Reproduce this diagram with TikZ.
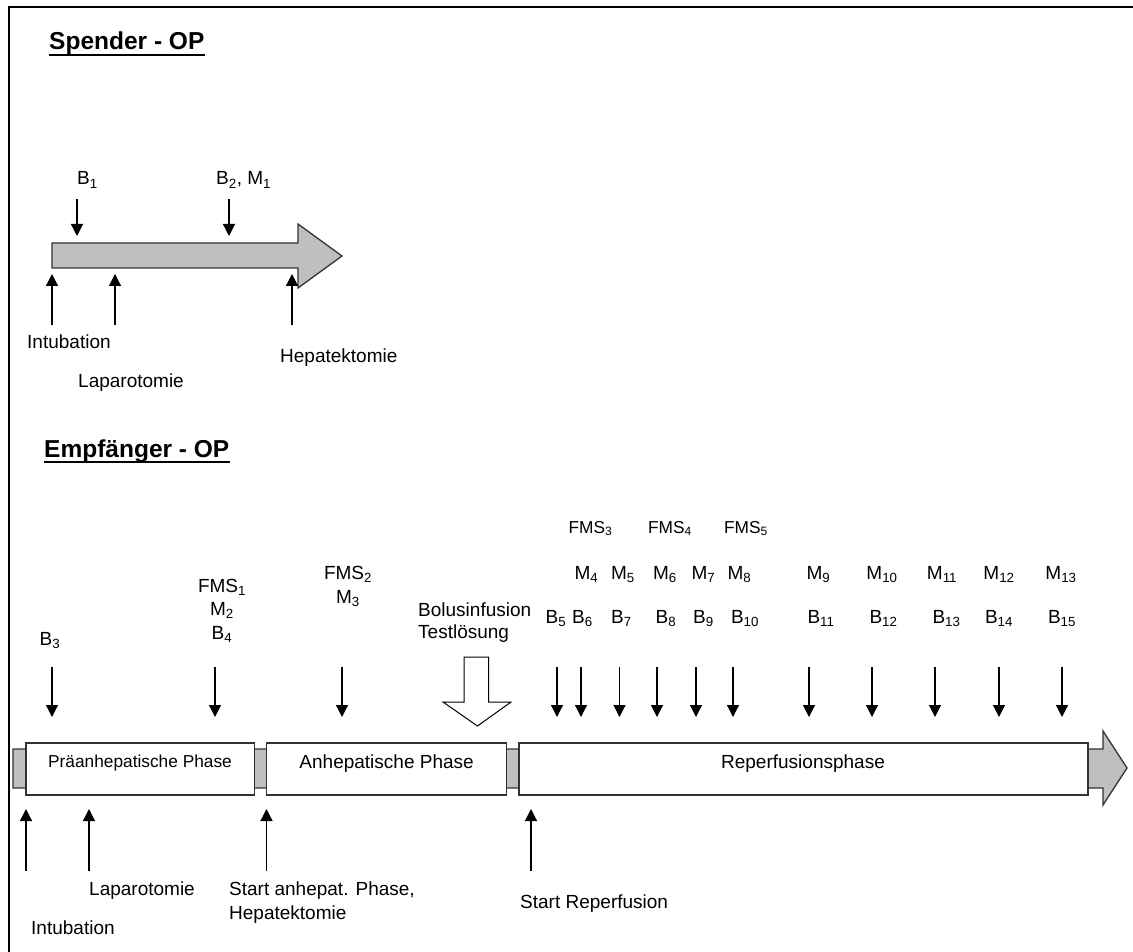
\documentclass[tikz,border=0pt]{standalone}
\usepackage{fontspec}
\setmainfont{Liberation Sans}
\usetikzlibrary{arrows.meta}

\begin{document}
\begin{tikzpicture}[x=1pt,y=-1pt,
  pfeil/.style={line width=1.2pt,-{Triangle[length=12pt,width=12pt]}},
  txt/.style={inner sep=0pt,font=\fontsize{19}{22}\selectfont},
  klein/.style={inner sep=0pt,font=\fontsize{17.3}{20}\selectfont},
  titel/.style={inner sep=0pt,font=\fontsize{24.5}{28}\selectfont\bfseries},
  balken/.style={draw=black!80,line width=1.3pt,fill=black!25},
  phase/.style={draw=black!80,line width=1.3pt,fill=white,inner sep=0pt,minimum height=52pt}]
\useasboundingbox (0,0) rectangle (1133,952);
% Rahmen
\draw[line width=2.5pt] (9,952) -- (9,7) -- (1133,7);

% Spender - OP
\node[titel,anchor=base west] (spender) at (49,50) {Spender - OP};
\draw[line width=2.2pt] ([yshift=-5pt]spender.base west) -- ([yshift=-5pt]spender.base east);
\draw[balken] (52,243) -- (298,243) -- (298,224) -- (342,256) -- (298,288) -- (298,268) -- (52,268) -- cycle;
\node[txt,anchor=base west] (sb1) at (77,185) {B\textsubscript{1}};
\node[txt,anchor=base west] (sb2) at (216,185) {B\textsubscript{2}, M\textsubscript{1}};
\foreach \i/\x in {1/77,2/229} {
  \coordinate (so\i) at (\x,199);
  \coordinate (su\i) at (\x,236);
  \draw[pfeil] (so\i) -- (su\i);
}
\foreach \i/\x in {1/52,2/115,3/292} {
  \coordinate (sh\i) at (\x,325);
  \coordinate (st\i) at (\x,274);
  \draw[pfeil] (sh\i) -- (st\i);
}
\node[txt,anchor=base west] (sintub) at (27,348) {Intubation};
\node[txt,anchor=base west] (slapar) at (78,387) {Laparotomie};
\node[txt,anchor=base west] (shepat) at (280,362) {Hepatektomie};

% Empfaenger - OP
\node[titel,anchor=base west] (empf) at (44,457) {Empfänger - OP};
\draw[line width=2.2pt] ([yshift=-5pt]empf.base west) -- ([yshift=-5pt]empf.base east);
\draw[balken] (13,749) -- (1103,749) -- (1103,731) -- (1127,768) -- (1103,805) -- (1103,788) -- (13,788) -- cycle;
\node[phase,minimum width=228.5pt] (prae) at (140.25,769) {};
\node[phase,minimum width=240.2pt] (anhep) at (386.6,769) {};
\node[phase,minimum width=569pt] (reperf) at (803.5,769) {};
\node[klein,anchor=base] (praetxt) at (140,767) {Präanhepatische Phase};
\node[txt,anchor=base] (anheptxt) at (386.6,768) {Anhepatische Phase};
\node[txt,anchor=base] (reperftxt) at (803,768) {Reperfusionsphase};

% Messzeitpunkte
\foreach \i/\x in {1/52,2/215,3/342,4/557,5/581,6/619.5,7/657,8/696,9/733,10/809,11/872,12/935,13/999,14/1062} {
  \coordinate (eo\i) at (\x,667);
  \coordinate (eu\i) at (\x,717);
  \draw[pfeil] (eo\i) -- (eu\i);
}
\node[txt,anchor=base] (b3) at (50,645) {B\textsubscript{3}};
\node[txt,anchor=base] (fms1) at (222,592) {FMS\textsubscript{1}};
\node[txt,anchor=base] (m2) at (222,615) {M\textsubscript{2}};
\node[txt,anchor=base] (b4) at (222,639) {B\textsubscript{4}};
\node[txt,anchor=base] (fms2) at (348,579) {FMS\textsubscript{2}};
\node[txt,anchor=base] (m3) at (348,603) {M\textsubscript{3}};
\foreach \n/\x in {3/590.5,4/670,5/746}
  \node[klein,anchor=base] (fms\n) at (\x,533) {FMS\textsubscript{\n}};
\foreach \n/\x in {4/586.5,5/623,6/665,7/703.5,8/739.5,9/818.5,10/882,11/942,12/999,13/1061}
  \node[txt,anchor=base] (m\n) at (\x,579) {M\textsubscript{\n}};
\foreach \n/\x in {5/556,6/582.5,7/621.5,8/666,9/703.5,10/745,11/821,12/883.5,13/946.5,14/999,15/1062}
  \node[txt,anchor=base] (b\n) at (\x,623) {B\textsubscript{\n}};

% Bolus
\node[txt,anchor=base west] (bolus) at (418,616) {Bolusinfusion};
\node[txt,anchor=base west] (test) at (418,638) {Testlösung};
\draw[line width=1pt,fill=white] (464,657) -- (488.5,657) -- (488.5,702) -- (511,702) -- (477.5,726) -- (443,702) -- (464,702) -- cycle;

% Ereignisse
\foreach \i/\x in {1/26,2/89,3/266.5,4/531} {
  \coordinate (eh\i) at (\x,871);
  \coordinate (et\i) at (\x,809);
  \draw[pfeil] (eh\i) -- (et\i);
}
\node[txt,anchor=base west] (elapar) at (89,895) {Laparotomie};
\node[txt,anchor=base west] (estart) at (229,895) {Start anhepat. Phase,};
\node[txt,anchor=base west] (ehepat) at (229,919) {Hepatektomie};
\node[txt,anchor=base west] (eintub) at (31,934) {Intubation};
\node[txt,anchor=base west] (ereperf) at (520,908) {Start Reperfusion};
\end{tikzpicture}
\end{document}
